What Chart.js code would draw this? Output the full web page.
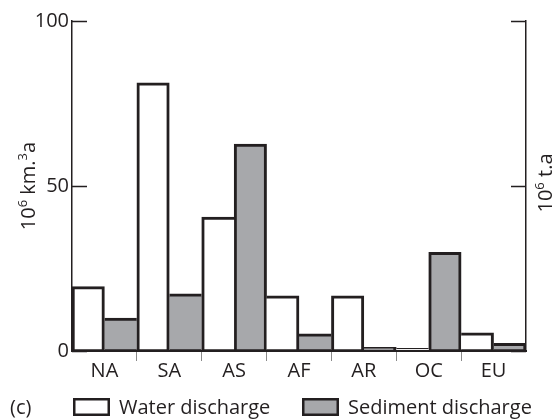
<!DOCTYPE html>
<html>
	<head>
		<title>Discharge by continent</title>
		<meta charset="UTF-8">
		<script src="https://cdn.jsdelivr.net/npm/chart.js@4"></script>
		<style>
			body { margin: 0; background: #fff; }
			#wrap { width: 555px; height: 419px; position: relative; }
		</style>
	</head>
	<body>
		<div id="wrap"><canvas id="bar-chart" width="555" height="419"></canvas></div>

		<script>
			var regions = ['NA', 'SA', 'AS', 'AF', 'AR', 'OC', 'EU'];
			var water = [19.5, 81.3, 40.6, 16.7, 16.7, 0.8, 5.5];
			var sediment = [10, 17.3, 62.7, 5.2, 1.1, 29.9, 2.3];
			var yTicks = [0, 50, 100];

			var FONT = '"Open Sans", "DejaVu Sans", sans-serif';
			var INK = '#231f20';
			var GREY = '#a7a8ab';

			// shared edges between neighbouring bars are stroked once, by the taller bar
			function edges(ctx) {
				var i = ctx.dataIndex, d = ctx.datasetIndex;
				var h = ctx.chart.data.datasets[d].data[i];
				var left = d === 0 ? (i > 0 ? sediment[i - 1] : null) : water[i];
				var right = d === 0 ? sediment[i] : (i < regions.length - 1 ? water[i + 1] : null);
				return {
					top: 3,
					bottom: 2,
					left: (left === null || h >= left) ? 3 : 0,
					right: (right === null || h > right) ? 3 : 0
				};
			}

			// axis titles with superscripts, both read bottom to top
			function drawTitle(c, parts, x, y) {
				var size = 20, sup = 13;
				c.save();
				c.translate(x, y);
				c.rotate(-Math.PI / 2);
				c.fillStyle = INK;
				c.textBaseline = 'alphabetic';
				var w = 0;
				parts.forEach(function(p) {
					c.font = (p.sup ? sup : size) + 'px ' + FONT;
					w += c.measureText(p.t).width;
				});
				var px = -w / 2;
				parts.forEach(function(p) {
					c.font = (p.sup ? sup : size) + 'px ' + FONT;
					c.fillText(p.t, px, p.sup ? -8 : 0);
					px += c.measureText(p.t).width;
				});
				c.restore();
			}

			var extras = {
				id: 'extras',
				afterDraw: function(chart) {
					var c = chart.ctx, a = chart.chartArea, y = chart.scales.y;
					// inward tick marks on both vertical axes
					c.save();
					c.strokeStyle = INK;
					c.lineWidth = 1.5;
					yTicks.forEach(function(v) {
						var py = Math.round(y.getPixelForValue(v)) + 0.5;
						c.beginPath();
						c.moveTo(a.left, py); c.lineTo(a.left + 15, py);
						c.moveTo(a.right - 15, py); c.lineTo(a.right, py);
						c.stroke();
					});
					c.restore();

					var mid = (a.top + a.bottom) / 2;
					drawTitle(c, [{t: '10'}, {t: '6', sup: true}, {t: ' km.'}, {t: '3', sup: true}, {t: 'a'}], 35, mid);
					drawTitle(c, [{t: '10'}, {t: '6', sup: true}, {t: ' t.a'}], 552, mid - 3);

					// legend row
					var top = 398, bh = 18, bw = 37;
					c.save();
					c.font = '20px ' + FONT;
					c.fillStyle = INK;
					c.textBaseline = 'alphabetic';
					c.fillText('(c)', 10, 414);
					var xs = [73, 302];
					chart.data.datasets.forEach(function(ds, k) {
						c.fillStyle = ds.backgroundColor;
						c.fillRect(xs[k], top, bw, bh);
						c.strokeStyle = INK;
						c.lineWidth = 2.5;
						c.strokeRect(xs[k] + 1.25, top + 1.25, bw - 2.5, bh - 2.5);
						c.fillStyle = INK;
						c.fillText(ds.label, xs[k] + 46, 414);
					});
					c.restore();
				}
			};

			new Chart(document.getElementById('bar-chart'), {
				type: 'bar',
				data: {
					labels: regions,
					datasets: [{
						label: 'Water discharge',
						data: water,
						backgroundColor: '#ffffff',
						borderColor: INK,
						borderWidth: edges,
						borderSkipped: false,
						barPercentage: 1,
						categoryPercentage: 1
					}, {
						label: 'Sediment discharge',
						data: sediment,
						backgroundColor: GREY,
						borderColor: INK,
						borderWidth: edges,
						borderSkipped: false,
						barPercentage: 1,
						categoryPercentage: 1
					}]
				},
				options: {
					responsive: false,
					animation: false,
					layout: { padding: { top: 21, bottom: 38, left: 0, right: 0 } },
					plugins: {
						legend: { display: false },
						tooltip: { enabled: false }
					},
					scales: {
						x: {
							afterFit: function(s) { s.height = 30; },
							grid: {
								offset: true,
								drawOnChartArea: false,
								tickLength: 10,
								lineWidth: 1,
								color: function(c) { return (c.type === 'tick' && c.index > 0) ? '#8a8a8a' : 'rgba(0,0,0,0)'; }
							},
							border: { display: true, color: INK, width: 2 },
							ticks: { color: INK, font: { family: FONT, size: 20 }, padding: -2 }
						},
						y: {
							min: 0, max: 100,
							afterFit: function(s) { s.width = 72; },
							afterBuildTicks: function(s) { s.ticks = yTicks.map(function(v) { return { value: v }; }); },
							grid: { display: false, drawTicks: false },
							border: { display: true, color: INK, width: 1.5 },
							ticks: { color: INK, font: { family: FONT, size: 20 }, padding: 3 }
						},
						y2: {
							position: 'right',
							min: 0, max: 100,
							afterFit: function(s) { s.width = 29; },
							grid: { display: false, drawTicks: false },
							border: { display: true, color: INK, width: 1.5 },
							ticks: { display: false }
						}
					}
				},
				plugins: [extras]
			});
		</script>
	</body>
</html>
